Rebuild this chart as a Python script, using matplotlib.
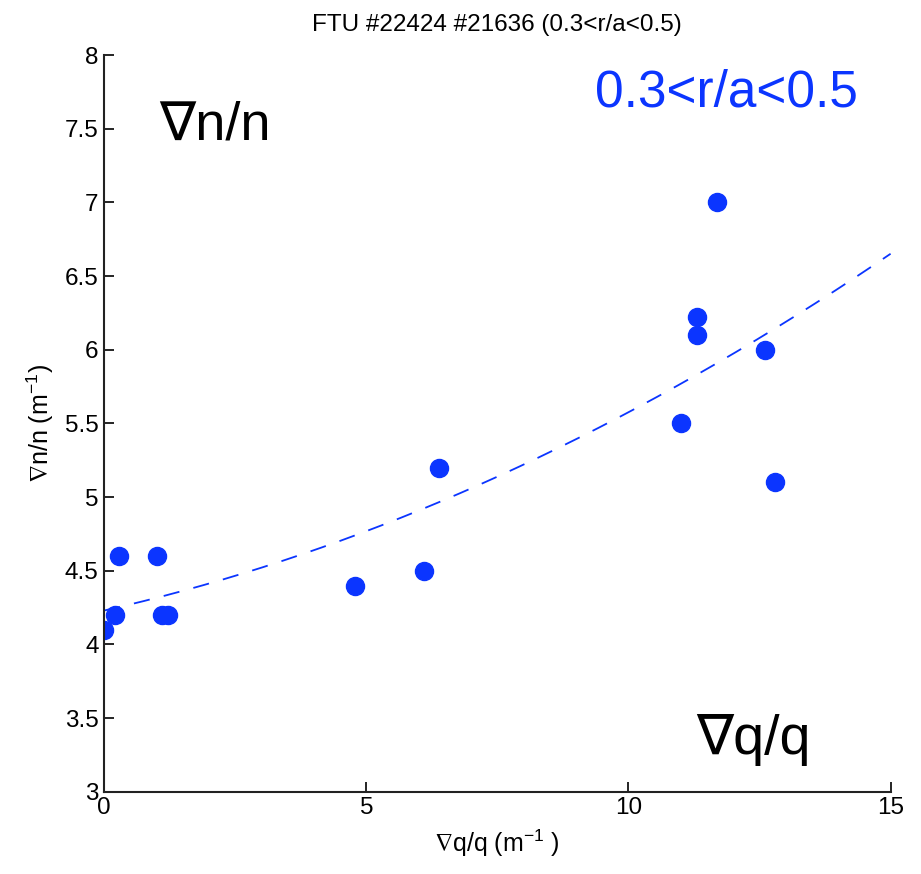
import numpy as np
import matplotlib
matplotlib.use("Agg")
import matplotlib.pyplot as plt

plt.rcParams['font.family'] = ['Liberation Sans', 'DejaVu Sans']
plt.rcParams['mathtext.fontset'] = 'custom'
plt.rcParams['mathtext.rm'] = 'Liberation Sans'
plt.rcParams['mathtext.it'] = 'Liberation Sans'
plt.rcParams['mathtext.fallback'] = 'stixsans'

# gradient of q/q vs gradient of n/n, 0.3<r/a<0.5
dq = [0.0, 0.2, 0.29, 1.0, 1.1, 1.22, 4.78, 6.1, 6.38, 11.0, 11.3, 11.3, 11.68, 12.6, 12.79]
dn = [4.1, 4.2, 4.6, 4.6, 4.2, 4.2, 4.4, 4.5, 5.2, 5.5, 6.22, 6.1, 7.0, 6.0, 5.1]

blue = '#0b35ff'

fig = plt.figure(figsize=(9.21, 8.74), dpi=100)
ax = fig.add_axes([0.113, 0.094, 0.854, 0.843])

# quadratic fit of the points
coef = np.polyfit(dq, dn, 2)
xf = np.linspace(0, 15, 200)
ax.plot(xf, np.polyval(coef, xf), '--', color=blue, lw=1.3, dashes=(9, 8))
ax.plot(dq, dn, 'o', color=blue, ms=13, mec=blue)

ax.set_xlim(0, 15)
ax.set_ylim(3, 8)
ax.set_xticks([0, 5, 10, 15])
ax.set_yticks(np.arange(3, 8.01, 0.5))
ax.set_yticklabels(['3', '3.5', '4', '4.5', '5', '5.5', '6', '6.5', '7', '7.5', '8'])
ax.tick_params(direction='in', length=7, width=1.2, labelsize=17.5, pad=4)
for s in ['top', 'right']:
    ax.spines[s].set_visible(False)
for s in ['left', 'bottom']:
    ax.spines[s].set_linewidth(1.5)
    ax.spines[s].set_color('#222222')

ax.set_xlabel(r'$\nabla$q/q (m$^{-1}$ )', fontsize=18, labelpad=6)
ax.set_ylabel(r'$\nabla$n/n (m$^{-1}$)', fontsize=18, labelpad=6)
ax.set_title('FTU #22424 #21636 (0.3<r/a<0.5)', fontsize=17.5, pad=17)

ax.text(0.07, 0.905, '∇n/n', transform=ax.transAxes, fontsize=39, va='center')
ax.text(0.753, 0.07, '∇q/q', transform=ax.transAxes, fontsize=40, va='center')
ax.text(0.958, 0.948, '0.3<r/a<0.5', transform=ax.transAxes, fontsize=37,
        va='center', ha='right', color=blue)

fig.savefig('out.png', dpi=100)
